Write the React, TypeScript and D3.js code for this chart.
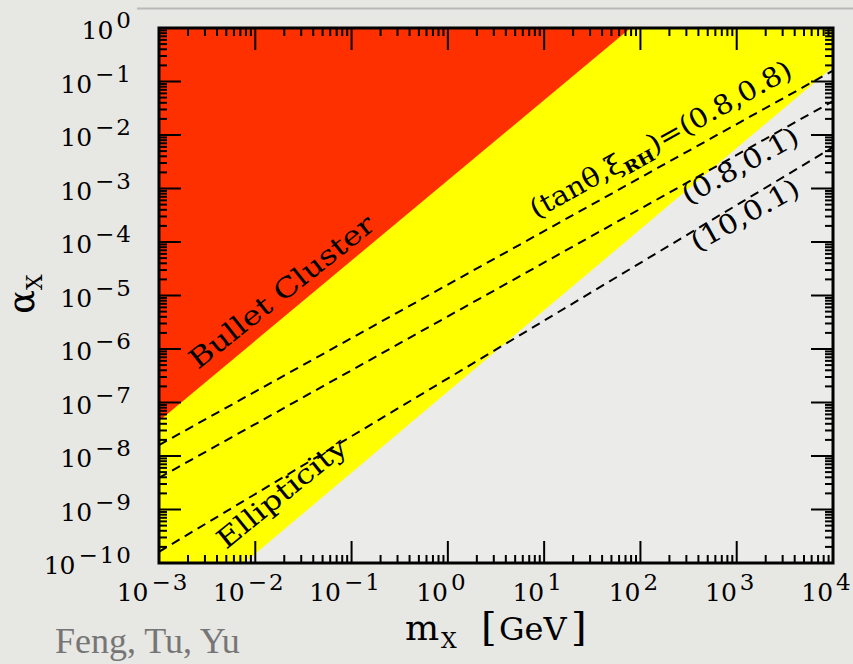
import React from "react";
import * as d3 from "d3";

// ---- data ----
const xDecades = [-3, -2, -1, 0, 1, 2, 3, 4];
const yDecades = [-10, -9, -8, -7, -6, -5, -4, -3, -2, -1, 0];
const minorMultipliers = [2, 3, 4, 5, 6, 7, 8, 9];

// region boundaries [mX (GeV), alphaX]
const bulletClusterEdge: [number, number][] = [[1e-3, 4.5e-8], [79, 1]];
const ellipticityEdge: [number, number][] = [[7.7e-3, 1e-10], [1e4, 0.187]];

// dashed curves [mX, alphaX]
const curve08_08: [number, number][] = [[1e-3, 1.6e-8], [1e4, 0.16]];
const curve08_01: [number, number][] = [[1e-3, 3.9e-9], [1e4, 0.043]];
const curve10_01: [number, number][] = [[1e-3, 1.62e-10], [1e4, 5.9e-3]];
const curveLabels = ["(0.8,0.8)", "(0.8,0.1)", "(10,0.1)"];

const W = 853;
const H = 664;
const L = 159, R = 833, T = 28, B = 563;
const FONT = "'DejaVu Serif', serif";

function sup(k: number) {
  return k < 0 ? "\u2212" + Math.abs(k) : String(k);
}

export default function App() {
  const x = d3.scaleLog().domain([1e-3, 1e4]).range([L, R]);
  const y = d3.scaleLog().domain([1e-10, 1]).range([B, T]);
  const line = d3.line<[number, number]>().x(d => x(d[0])).y(d => y(d[1]));

  const xMajor = xDecades.map(k => Math.pow(10, k));
  const yMajor = yDecades.map(k => Math.pow(10, k));
  const xMinor: number[] = [];
  xDecades.slice(0, -1).forEach(k => minorMultipliers.forEach(j => xMinor.push(j * Math.pow(10, k))));
  const yMinor: number[] = [];
  yDecades.slice(0, -1).forEach(k => minorMultipliers.forEach(j => yMinor.push(j * Math.pow(10, k))));

  const [xmin, xmax] = x.domain();
  const [ymin, ymax] = y.domain();

  const yellowPoly: [number, number][] = [
    [xmin, ymin], ellipticityEdge[0], ellipticityEdge[1], [xmax, ymax], [xmin, ymax],
  ];
  const redPoly: [number, number][] = [bulletClusterEdge[0], bulletClusterEdge[1], [xmin, ymax]];

  const majorLen = 22, minorLen = 8;

  return (
    <svg width={W} height={H} style={{ position: "absolute", left: 0, top: 0 }} fontFamily={FONT}>
      <rect x={0} y={0} width={W} height={H} fill="#e7e7e4" />
      <line x1={137} x2={W} y1={8.5} y2={8.5} stroke="#b9b9b7" strokeWidth={2} />
      <defs>
        <clipPath id="plotclip">
          <rect x={L} y={T} width={R - L} height={B - T} />
        </clipPath>
      </defs>
      <g clipPath="url(#plotclip)">
        <rect x={L} y={T} width={R - L} height={B - T} fill="#ebebe9" />
        <path d={line(yellowPoly) + "Z"} fill="#ffff00" />
        <path d={line(redPoly) + "Z"} fill="#ff3000" />
        {[curve08_08, curve08_01, curve10_01].map((c, i) => (
          <path key={i} d={line(c) || ""} fill="none" stroke="#000" strokeWidth={2} strokeDasharray="9,6" />
        ))}
      </g>

      {/* ticks */}
      <g stroke="#000" strokeWidth={2}>
        {xMajor.map((v, i) => (
          <g key={"xM" + i}>
            <line x1={x(v)} x2={x(v)} y1={B} y2={B - majorLen} />
            <line x1={x(v)} x2={x(v)} y1={T} y2={T + majorLen} />
          </g>
        ))}
        {xMinor.map((v, i) => (
          <g key={"xm" + i}>
            <line x1={x(v)} x2={x(v)} y1={B} y2={B - minorLen} />
            <line x1={x(v)} x2={x(v)} y1={T} y2={T + minorLen} />
          </g>
        ))}
        {yMajor.map((v, i) => (
          <g key={"yM" + i}>
            <line x1={L} x2={L + majorLen} y1={y(v)} y2={y(v)} />
            <line x1={R} x2={R - majorLen} y1={y(v)} y2={y(v)} />
          </g>
        ))}
        {yMinor.map((v, i) => (
          <g key={"ym" + i}>
            <line x1={L} x2={L + minorLen} y1={y(v)} y2={y(v)} />
            <line x1={R} x2={R - minorLen} y1={y(v)} y2={y(v)} />
          </g>
        ))}
      </g>
      <rect x={L} y={T} width={R - L} height={B - T} fill="none" stroke="#000" strokeWidth={3} />

      {/* tick labels */}
      {xDecades.map((k, i) => (
        <text key={"xl" + i} x={x(Math.pow(10, k)) - 6} y={601} textAnchor="middle" fontSize={25} fill="#000">
          10<tspan fontSize={23} letterSpacing={2} dx={3} dy={-11}>{sup(k)}</tspan>
        </text>
      ))}
      {yDecades.map((k, i) => (
        <text key={"yl" + i} x={133} y={y(Math.pow(10, k)) + 11} textAnchor="end" fontSize={25} fill="#000">
          10<tspan fontSize={23} letterSpacing={2} dx={3} dy={-11}>{sup(k)}</tspan>
        </text>
      ))}

      {/* axis titles */}
      <text x={405} y={640} fill="#000">
        <tspan fontSize={36}>m</tspan>
        <tspan x={441} dy={8} fontSize={22}>X</tspan>
        <tspan x={481} dy={-8} fontSize={40}>[</tspan>
        <tspan x={499} fontSize={32}>GeV</tspan>
        <tspan x={571} fontSize={40}>]</tspan>
      </text>
      <text transform="translate(34,294) rotate(-90)" textAnchor="middle" fill="#000">
        <tspan fontSize={35}>α</tspan>
        <tspan fontSize={22} dy={8}>X</tspan>
      </text>

      {/* region labels */}
      <text transform="translate(198,370) rotate(-38.5) scale(1.2,1)" fontSize={27} fill="#000">Bullet Cluster</text>
      <text transform="translate(226,550) rotate(-39) scale(1.2,1)" fontSize={27} fill="#000">Ellipticity</text>

      {/* curve labels */}
      <text transform="translate(536,219) rotate(-29) scale(1.08,1)" fontSize={27} fill="#000">
        (tanθ,ξ<tspan fontSize={17} fontWeight="bold" dy={6}>RH</tspan><tspan dy={-6}>)={curveLabels[0]}</tspan>
      </text>
      <text transform="translate(688,205) rotate(-29) scale(1.12,1)" fontSize={27} fill="#000">{curveLabels[1]}</text>
      <text transform="translate(697,252) rotate(-29) scale(1.12,1)" fontSize={27} fill="#000">{curveLabels[2]}</text>

      <text x={55} y={653} fontFamily="'Liberation Serif', serif" fontSize={36} fill="#767676">Feng, Tu, Yu</text>
    </svg>
  );
}
